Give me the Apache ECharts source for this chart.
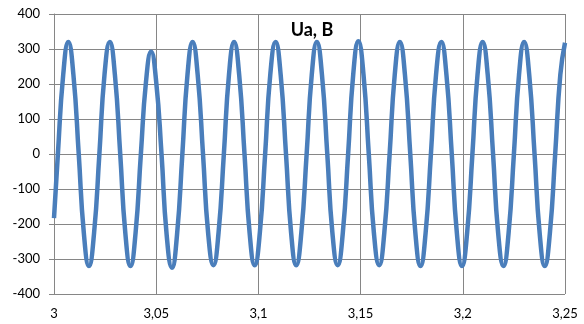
<!DOCTYPE html>
<html>
<head>
<meta charset="utf-8">
<script src="https://cdn.jsdelivr.net/npm/echarts@6/dist/echarts.min.js"></script>
<style>
html,body{margin:0;padding:0;background:#fff;}
#chart{width:584px;height:324px;}
</style>
</head>
<body>
<div id="chart"></div>
<script>
const chartTitle = 'Ua, B';
const xTicks = [3, 3.05, 3.1, 3.15, 3.2, 3.25];
const yTicks = [-400, -300, -200, -100, 0, 100, 200, 300, 400];

const times = [
  3.0000, 3.0019, 3.0045,
  3.0070, 3.0095, 3.0121, 3.0146,
  3.0171, 3.0196, 3.0222, 3.0247,
  3.0273, 3.0298, 3.0324, 3.0349,
  3.0374, 3.0399, 3.0425, 3.0450,
  3.0475, 3.0500, 3.0526, 3.0551,
  3.0577, 3.0602, 3.0628, 3.0653,
  3.0678, 3.0703, 3.0729, 3.0754,
  3.0780, 3.0805, 3.0831, 3.0856,
  3.0881, 3.0906, 3.0932, 3.0957,
  3.0982, 3.1007, 3.1033, 3.1058,
  3.1084, 3.1109, 3.1135, 3.1160,
  3.1185, 3.1210, 3.1236, 3.1261,
  3.1286, 3.1311, 3.1337, 3.1362,
  3.1388, 3.1413, 3.1439, 3.1464,
  3.1489, 3.1514, 3.1540, 3.1565,
  3.1591, 3.1616, 3.1642, 3.1667,
  3.1692, 3.1717, 3.1743, 3.1768,
  3.1793, 3.1818, 3.1844, 3.1869,
  3.1895, 3.1920, 3.1946, 3.1971,
  3.1996, 3.2021, 3.2047, 3.2072,
  3.2097, 3.2122, 3.2148, 3.2173,
  3.2199, 3.2224, 3.2250, 3.2275,
  3.2300, 3.2325, 3.2351, 3.2376,
  3.2401, 3.2426, 3.2452, 3.2477,
  3.2500
];

const voltages = [
  -183, 0, 226,
  320, 226, 0, -226,
  -320, -226, 0, 226,
  320, 226, 0, -226,
  -320, -226, 0, 206,
  292, 206, 0, -230,
  -325, -230, 0, 226,
  320, 226, 0, -225,
  -318, -225, 0, 226,
  320, 226, 0, -225,
  -318, -225, 0, 226,
  320, 226, 0, -225,
  -318, -225, 0, 226,
  320, 226, 0, -225,
  -318, -225, 0, 228,
  322, 228, 0, -225,
  -318, -225, 0, 226,
  320, 226, 0, -226,
  -320, -226, 0, 226,
  320, 226, 0, -226,
  -320, -226, 0, 226,
  320, 226, 0, -226,
  -320, -226, 0, 226,
  320, 226, 0, -226,
  -320, -226, 0, 226,
  318
];

const seriesData = times.map((t, i) => [t, voltages[i]]);

const gridColor = '#868686';
const fontFamily = 'Lato, "Open Sans", sans-serif';

const chart = echarts.init(document.getElementById('chart'), null, {renderer: 'canvas'});
chart.setOption({
  animation: false,
  backgroundColor: '#ffffff',
  grid: {left: 54, right: 19, top: 14, bottom: 30, containLabel: false},
  graphic: [{
    type: 'text',
    x: 312, y: 30,
    style: {
      text: chartTitle,
      fill: '#000',
      font: 'bold 18px ' + fontFamily,
      textAlign: 'center',
      textVerticalAlign: 'middle'
    }
  }],
  xAxis: {
    type: 'value',
    min: xTicks[0],
    max: xTicks[xTicks.length - 1],
    interval: 0.05,
    axisLine: {show: true, lineStyle: {color: gridColor, width: 1}},
    axisTick: {show: false},
    splitLine: {show: true, lineStyle: {color: gridColor, width: 1}},
    axisLabel: {
      color: '#000',
      fontSize: 13,
      fontFamily: fontFamily,
      margin: 13,
      formatter: v => String(Math.round(v * 100) / 100).replace('.', ',')
    }
  },
  yAxis: {
    type: 'value',
    min: yTicks[0],
    max: yTicks[yTicks.length - 1],
    interval: 100,
    axisLine: {show: true, lineStyle: {color: gridColor, width: 1}},
    axisTick: {show: true, length: 5, inside: false, lineStyle: {color: gridColor}},
    splitLine: {show: true, lineStyle: {color: gridColor, width: 1}},
    axisLabel: {
      color: '#000',
      fontSize: 13,
      fontFamily: fontFamily,
      margin: 14
    }
  },
  series: [{
    type: 'line',
    data: seriesData,
    showSymbol: false,
    smooth: 0.5,
    lineStyle: {color: '#4A7EBB', width: 4.5},
    itemStyle: {color: '#4A7EBB'}
  }]
});
</script>
</body>
</html>
